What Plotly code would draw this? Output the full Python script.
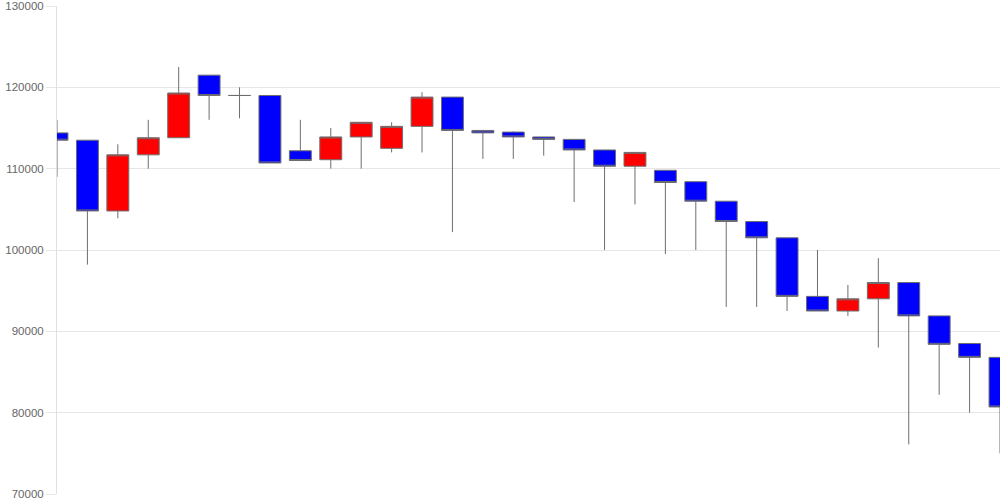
import plotly.graph_objects as go

idx = list(range(32))
open_ = [114400, 113500, 104800, 111700, 113800, 121500, 119000, 119000, 112200, 111100,
         113900, 112500, 115200, 118800, 114700, 114500, 113900, 113600, 112300, 110300,
         109800, 108400, 106000, 103500, 101500, 94300, 92500, 94000, 96000, 91900,
         88500, 86800]
high = [116000, 113500, 113000, 116000, 122500, 121500, 120000, 119000, 116000, 115000,
        115700, 115700, 119400, 118800, 114700, 114600, 113900, 113600, 112300, 112000,
        109800, 108400, 106000, 103500, 101500, 100000, 95700, 99000, 96000, 91900,
        88500, 86800]
low = [109000, 98200, 103900, 110000, 113800, 116000, 116200, 110700, 111000, 110000,
       110000, 112000, 112000, 102200, 111200, 111200, 111600, 105900, 100000, 105600,
       99500, 100000, 93000, 93000, 92500, 92500, 91900, 88000, 76100, 82200,
       80000, 75000]
close = [113500, 104800, 111700, 113800, 119300, 119000, 119000, 110700, 111000, 113900,
         115700, 115200, 118800, 114700, 114400, 113900, 113600, 112300, 110300, 112000,
         108300, 106000, 103500, 101500, 94300, 92500, 94000, 96000, 91900, 88400,
         86800, 80700]
y_ticks = [70000, 80000, 90000, 100000, 110000, 120000, 130000]

fig = go.Figure(go.Candlestick(
    x=idx, open=open_, high=high, low=low, close=close,
    increasing=dict(fillcolor="#ff0000", line=dict(color="#6e6e6e", width=1)),
    decreasing=dict(fillcolor="#0000ff", line=dict(color="#6e6e6e", width=1)),
    whiskerwidth=0,
    showlegend=False,
    hoverinfo="skip",
))

fig.update_layout(
    width=1000, height=500,
    margin=dict(l=57, r=0, t=6, b=6, autoexpand=False),
    paper_bgcolor="white", plot_bgcolor="white",
    boxgap=0.28, boxgroupgap=0,
    font=dict(family="Liberation Sans, Arial, sans-serif", size=12, color="#666666"),
    xaxis=dict(range=[0, 31], visible=False, rangeslider=dict(visible=False),
               fixedrange=True, automargin=False),
    yaxis=dict(range=[70000, 130000], tickvals=y_ticks, ticktext=[str(v) for v in y_ticks],
               showgrid=True, gridcolor="#e6e6e6", gridwidth=1,
               ticks="outside", ticklen=10, tickcolor="#e6e6e6",
               showline=True, linecolor="#e0e0e0", linewidth=1, automargin=False,
               ticklabeloverflow="allow",
               zeroline=False, fixedrange=True, tickfont=dict(size=11.5, color="#666666")),
)

fig.write_html("out.html", config={"displayModeBar": False, "staticPlot": True},
               post_script="document.body.style.margin='0';document.body.style.overflow='hidden';")
